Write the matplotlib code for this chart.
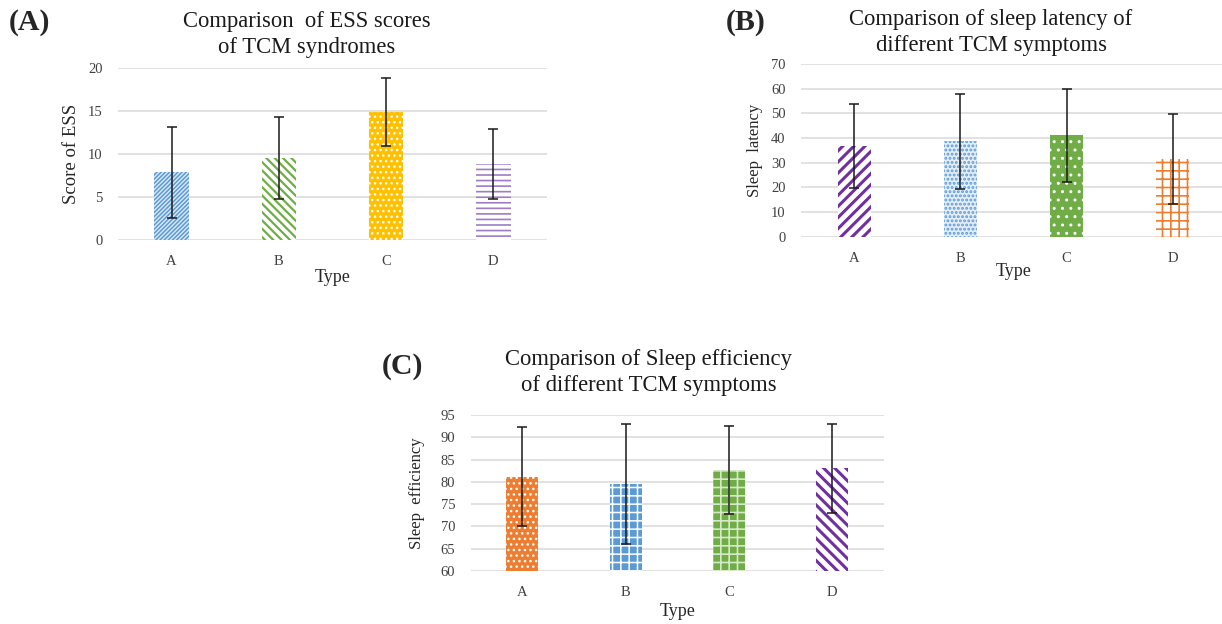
import matplotlib
matplotlib.use("Agg")
import matplotlib.pyplot as plt

# ---------------- data ----------------
types = ["A", "B", "C", "D"]

ess_mean = [7.85, 9.5, 14.9, 8.8]
ess_err = [5.3, 4.77, 3.95, 4.05]

lat_mean = [36.8, 38.65, 41.15, 31.5]
lat_err = [17.0, 19.35, 18.85, 18.3]

eff_mean = [81.15, 79.55, 82.7, 83.0]
eff_err = [11.05, 13.45, 9.8, 10.0]

W, H = 1222, 624
fig = plt.figure(figsize=(W / 100, H / 100), dpi=100)
fig.patch.set_facecolor("white")

SERIF = ["Liberation Serif", "DejaVu Serif"]
GRID = "#D9D9D9"

def ax_px(x0, y0, x1, y1):
    return fig.add_axes([x0 / W, 1 - y1 / H, (x1 - x0) / W, (y1 - y0) / H])

def style_axes(ax, ylim, yticks, xlab_y, ylab_x, ylabel, ylab_size, box):
    x0, y0, x1, y1 = box
    ax.set_ylim(*ylim)
    ax.set_xlim(-0.5, 3.5)
    ax.set_yticks(yticks)
    ax.set_xticks(range(len(types)))
    ax.set_xticklabels(types)
    for s in ax.spines.values():
        s.set_visible(False)
    ax.tick_params(length=0, labelsize=10.5, colors="#404040")
    ax.tick_params(axis="y", pad=11)
    ax.tick_params(axis="x", pad=11)
    for lab in ax.get_xticklabels() + ax.get_yticklabels():
        lab.set_family(SERIF)
    ax.grid(axis="y", color=GRID, lw=1.1)
    ax.set_axisbelow(True)
    ax.set_xlabel("Type", family=SERIF, fontsize=13, color="#262626")
    ax.xaxis.set_label_coords(0.5, (y1 - xlab_y) / (y1 - y0))
    ax.xaxis.label.set_va("center")
    ax.set_ylabel(ylabel, family=SERIF, fontsize=ylab_size, color="#262626")
    ax.yaxis.set_label_coords((ylab_x - x0) / (x1 - x0), 0.5)
    ax.yaxis.label.set_va("center")

def draw_bars(ax, means, errs, width, styles):
    bars = ax.bar(range(len(types)), means, width=width, zorder=2,
                  yerr=errs, capsize=3.5,
                  error_kw=dict(ecolor="#1a1a1a", elinewidth=1.1, capthick=1.1, zorder=3))
    for b, (fc, ec, hatch, hlw) in zip(bars, styles):
        b.set_facecolor(fc)
        b.set_edgecolor(ec)
        b.set_hatch(hatch)
        b.set_linewidth(0)
        if hasattr(b, "set_hatch_linewidth"):
            b.set_hatch_linewidth(hlw)
    return bars

def title_lines(lines, cx, ys, size):
    for t, y in zip(lines, ys):
        fig.text(cx / W, 1 - y / H, t, ha="center", va="center",
                 family=SERIF, fontsize=size, color="#1a1a1a")

def panel_label(t, x, y):
    fig.text(x / W, 1 - y / H, t, ha="left", va="center",
             family=SERIF, fontsize=21.5, fontweight="bold", color="#262626")

# ---------------- Panel A ----------------
boxA = (118, 68, 547, 240)
axA = ax_px(*boxA)
draw_bars(axA, ess_mean, ess_err, 0.32, [
    ("#DCE9F6", "#5B9BD5", "////////", 1.1),
    ("white", "#70AD47", "\\\\\\\\", 1.6),
    ("#FFC000", "white", "...", 1.0),
    ("white", "#9E7CC6", "---", 1.2),
])
style_axes(axA, (0, 20), [0, 5, 10, 15, 20], 278, 72, "Score of ESS", 13.5, boxA)
title_lines(["Comparison  of ESS scores", "of TCM syndromes"], 307, [22, 48], 16.3)
panel_label("(A)", 9, 22)

# ---------------- Panel B ----------------
boxB = (801, 64, 1226, 236.5)
axB = ax_px(*boxB)
draw_bars(axB, lat_mean, lat_err, 0.31, [
    ("white", "#7030A0", "///", 2.2),
    ("#E3EEF8", "#5B9BD5", "....", 1.4),
    ("#70AD47", "white", "..", 1.0),
    ("white", "#ED7D31", "++", 1.2),
])
style_axes(axB, (0, 70), list(range(0, 71, 10)), 272, 755, "Sleep  latency", 12, boxB)
title_lines(["Comparison of sleep latency of", "different TCM symptoms"], 991, [20, 46], 16.3)
panel_label("(B)", 726, 22)

# ---------------- Panel C ----------------
boxC = (470.6, 415, 884, 571)
axC = ax_px(*boxC)
draw_bars(axC, eff_mean, eff_err, 0.31, [
    ("#ED7D31", "white", "...", 1.0),
    ("#5B9BD5", "white", "++", 1.1),
    ("#70AD47", "#D5E8C8", "++", 1.2),
    ("white", "#7030A0", "\\\\\\", 2.2),
])
style_axes(axC, (60, 95), list(range(60, 96, 5)), 611, 417, "Sleep  efficiency", 12, boxC)
title_lines(["Comparison of Sleep efficiency", "of different TCM symptoms"], 649, [360, 386], 16.3)
panel_label("(C)", 382, 366)

fig.savefig("out.png", dpi=100)
